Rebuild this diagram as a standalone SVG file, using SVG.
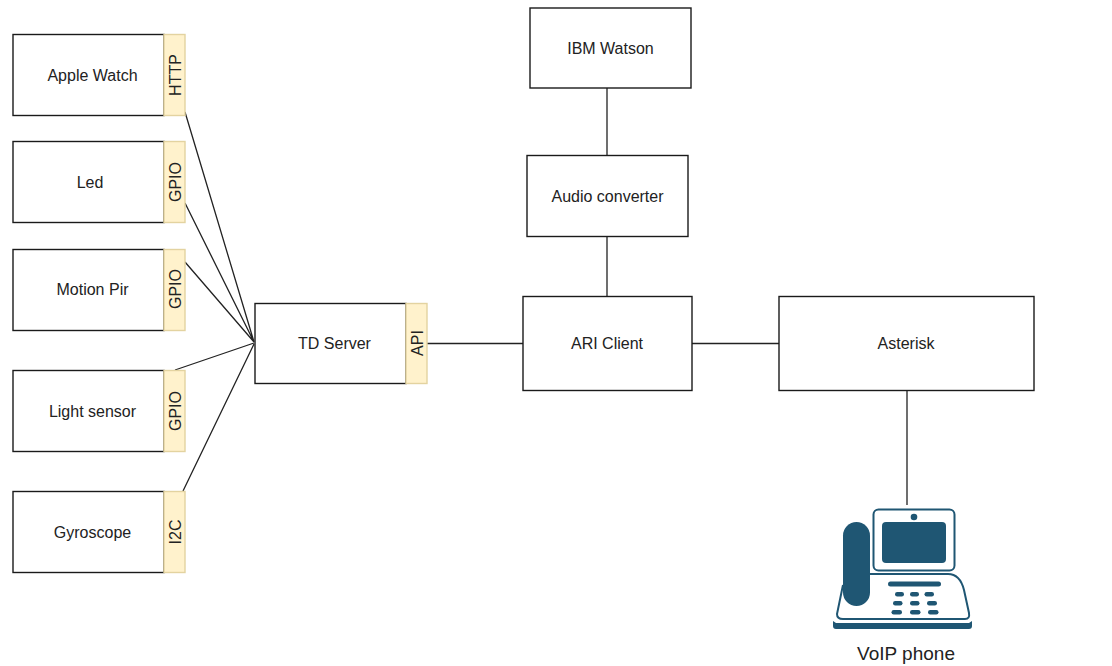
<svg xmlns="http://www.w3.org/2000/svg" width="1112" height="666" viewBox="0 0 1112 666">
<style>
.b{fill:#fff;stroke:#1a1a1a;stroke-width:1.4}
.t{fill:#fff2cc;stroke:#e3d3a0;stroke-width:1.4}
.l{font-family:"Liberation Sans",Arial,sans-serif;font-size:16px;fill:#222;text-anchor:middle}
.c{fill:none;stroke:#222;stroke-width:1.3}
.p{fill:#1f5673}
.o{fill:none;stroke:#1f5673;stroke-width:2}
</style>
<rect width="1112" height="666" fill="#fff"/>
<g id="connectors">
<path class="c" d="M185 112L254 342M185 203L254 342M185 262L254 342M175 370L254 343M183 491L254 344"/>
<path class="c" d="M427 343.500H523M692 343.500H779M607 88V155M607 236V296M907 391V505"/>
</g>
<g id="apple-watch"><rect class="b" x="13" y="34.500" width="151" height="81"/><rect class="t" x="164" y="34.500" width="21" height="81"/><text class="l" x="92.500" y="81">Apple Watch</text><text class="l" transform="translate(181,75) rotate(-90)">HTTP</text></g>
<g id="led"><rect class="b" x="13" y="141.500" width="151" height="81"/><rect class="t" x="164" y="141.500" width="21" height="81"/><text class="l" x="90" y="188">Led</text><text class="l" transform="translate(181,182) rotate(-90)">GPIO</text></g>
<g id="motion-pir"><rect class="b" x="13" y="249.500" width="151" height="81"/><rect class="t" x="164" y="249.500" width="21" height="81"/><text class="l" x="92.500" y="295">Motion Pir</text><text class="l" transform="translate(181,289) rotate(-90)">GPIO</text></g>
<g id="light-sensor"><rect class="b" x="13" y="370.500" width="151" height="81"/><rect class="t" x="164" y="370.500" width="21" height="81"/><text class="l" x="92.500" y="417">Light sensor</text><text class="l" transform="translate(181,411) rotate(-90)">GPIO</text></g>
<g id="gyroscope"><rect class="b" x="13" y="491.500" width="151" height="81"/><rect class="t" x="164" y="491.500" width="21" height="81"/><text class="l" x="92.500" y="538">Gyroscope</text><text class="l" transform="translate(181,532) rotate(-90)">I2C</text></g>
<g id="td-server"><rect class="b" x="255" y="303.500" width="151" height="80"/><rect class="t" x="406" y="303.500" width="21" height="80"/><text class="l" x="334.500" y="349">TD Server</text><text class="l" transform="translate(423,343) rotate(-90)">API</text></g>
<g id="ibm-watson"><rect class="b" x="530" y="8" width="161" height="80"/><text class="l" x="610.500" y="54">IBM Watson</text></g>
<g id="audio-converter"><rect class="b" x="527" y="155.500" width="161" height="81"/><text class="l" x="607.500" y="202">Audio converter</text></g>
<g id="ari-client"><rect class="b" x="523" y="296.500" width="169" height="94"/><text class="l" x="607" y="349">ARI Client</text></g>
<g id="asterisk"><rect class="b" x="779" y="296.500" width="255" height="94"/><text class="l" x="906" y="349">Asterisk</text></g>
<g id="voip-phone">
<rect class="o" x="873.500" y="509.500" width="81" height="61" rx="5"/>
<rect class="p" x="882" y="522" width="64" height="41" rx="4"/>
<circle class="p" cx="914" cy="517" r="3.300"/>
<path class="o" d="M870 574H948Q960 574 964 590L969 613Q970 619 965 619H843Q837 619 837 614L843 585"/>
<rect class="p" x="843" y="522" width="27" height="84" rx="13.500"/>
<rect class="p" x="888" y="581.500" width="53" height="5" rx="2.500"/>
<g class="p"><rect x="895" y="592" width="9" height="4.500" rx="2.200"/><rect x="910" y="592" width="9" height="4.500" rx="2.200"/><rect x="924.500" y="592" width="9.500" height="4.500" rx="2.200"/><rect x="893" y="601" width="9.500" height="4.500" rx="2.200"/><rect x="910" y="601" width="9.500" height="4.500" rx="2.200"/><rect x="927" y="601" width="10" height="4.500" rx="2.200"/><rect x="891.500" y="610" width="10.500" height="4.500" rx="2.200"/><rect x="910" y="610" width="10.500" height="4.500" rx="2.200"/><rect x="928" y="610" width="10.500" height="4.500" rx="2.200"/></g>
<path class="p" d="M833 621L836 623H969L972 621V626Q972 629 969 629H836Q833 629 833 626Z"/>
<text x="906" y="660" font-family="'Liberation Sans',Arial,sans-serif" font-size="19" fill="#222" text-anchor="middle">VoIP phone</text>
</g>
</svg>
